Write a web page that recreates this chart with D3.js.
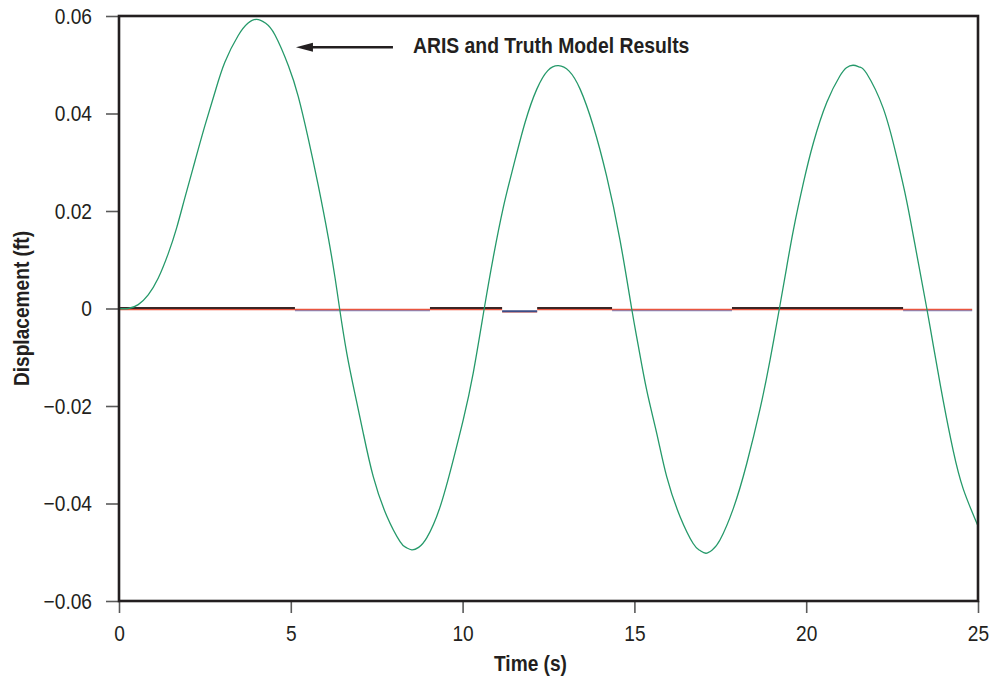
<!DOCTYPE html>
<html>
<head>
<meta charset="utf-8">
<script src="https://cdn.jsdelivr.net/npm/d3@7/dist/d3.min.js"></script>
<style>
  html, body { margin: 0; padding: 0; background: #ffffff; }
  svg { display: block; font-family: "Liberation Sans", Arial, Helvetica, sans-serif; }
</style>
</head>
<body>
<svg id="chart" width="997" height="684"></svg>
<script>
// Displacement response, time in seconds and displacement in feet
const timeS = [0, 0.27, 0.56, 0.85, 1.14, 1.43, 1.68, 1.92, 2.21, 2.50,
  2.79, 3.08, 3.47, 3.75, 4.00, 4.27, 4.54, 4.93, 5.22, 5.51,
  5.80, 6.09, 6.29, 6.42, 6.63, 6.87, 7.11, 7.40, 7.79, 8.18,
  8.35, 8.52, 8.72, 8.96, 9.34, 9.73, 10.02, 10.31, 10.63, 10.89,
  11.18, 11.48, 11.82, 12.16, 12.48, 12.79, 13.10, 13.42, 13.80, 14.19,
  14.58, 14.92, 15.11, 15.36, 15.65, 15.94, 16.33, 16.71, 16.90, 17.08,
  17.27, 17.49, 17.88, 18.27, 18.66, 18.95, 19.22, 19.43, 19.63, 19.92,
  20.21, 20.60, 20.98, 21.17, 21.37, 21.57, 21.76, 22.24, 22.63, 22.92,
  23.21, 23.51, 23.70, 23.99, 24.28, 24.57, 25.00];
const dispFt = [0, 0, 0.0008, 0.0028, 0.0062, 0.0112, 0.0166, 0.0228, 0.0302, 0.0375,
  0.0443, 0.0505, 0.0560, 0.0585, 0.0593, 0.0585, 0.0561, 0.0498, 0.0434, 0.0348,
  0.0252, 0.0146, 0.0062, 0, -0.0092, -0.0176, -0.0256, -0.0345, -0.0425, -0.0478,
  -0.0490, -0.0495, -0.0490, -0.0470, -0.0408, -0.0310, -0.0228, -0.0132, 0, 0.0104,
  0.0206, 0.0292, 0.0382, 0.0450, 0.0488, 0.0498, 0.0487, 0.0450, 0.0375, 0.0272,
  0.0141, 0, -0.0075, -0.0168, -0.0256, -0.0345, -0.0427, -0.0482, -0.0496, -0.0502,
  -0.0495, -0.0475, -0.0410, -0.0318, -0.0205, -0.0105, 0, 0.0084, 0.0162, 0.0258,
  0.0340, 0.0423, 0.0477, 0.0494, 0.0499, 0.0495, 0.0482, 0.0411, 0.0312, 0.0222,
  0.0114, 0, -0.0076, -0.0190, -0.0292, -0.0370, -0.0446];

// Near-zero traces: [start time, end time, displacement]
const darkSpans = [[0, 5.12, 0.0001], [9.05, 11.15, 0.0001], [12.17, 14.35, 0.0001], [17.84, 22.82, 0.0001]];
const blueSpans = [[5.12, 9.05, -0.0004], [14.35, 17.84, -0.0004], [22.82, 24.83, -0.0004]];
const redSpans = [[0, 11.15, -0.0002], [11.15, 12.17, -0.0007], [12.17, 24.83, -0.0002]];
const navySpans = [[11.15, 12.17, -0.00055]];

const xTicks = [0, 5, 10, 15, 20, 25];
const yTicks = [-0.06, -0.04, -0.02, 0, 0.02, 0.04, 0.06];
const xTitle = "Time (s)";
const yTitle = "Displacement (ft)";
const noteText = "ARIS and Truth Model Results";
const noteTip = [5.15, 0.0536];   // arrow tip, in data units

const svg = d3.select("#chart");
const plotL = 119, plotR = 978, plotT = 16, plotB = 601;
const ink = "#231f20";
const squeeze = 0.87;   // narrow typeface look

const x = d3.scaleLinear().domain([0, 25]).range([plotL, plotR]);
const y = d3.scaleLinear().domain([-0.06, 0.06]).range([plotB, plotT]);

// axes (ticks outside the frame)
const fmt = d => d === 0 ? "0" : d3.format(".2f")(d);
const xAxis = svg.append("g")
  .attr("transform", `translate(0,${plotB})`)
  .call(d3.axisBottom(x).tickValues(xTicks).tickFormat(d3.format("d")).tickSize(12).tickSizeOuter(0).tickPadding(12));
const yAxis = svg.append("g")
  .attr("transform", `translate(${plotL},0)`)
  .call(d3.axisLeft(y).tickValues(yTicks).tickFormat(fmt).tickSize(13).tickSizeOuter(0).tickPadding(14));

[xAxis, yAxis].forEach(a => {
  a.select(".domain").remove();
  a.selectAll(".tick line").attr("stroke", "#5a5a5a").attr("stroke-width", 1.6);
  a.selectAll(".tick text").attr("fill", ink).attr("font-size", 22);
});
xAxis.selectAll(".tick text").attr("transform", `scale(${squeeze},1)`);
yAxis.selectAll(".tick text")
  .attr("x", -(13 + 14) / squeeze)
  .attr("transform", `scale(${squeeze},1)`);

// data lines
const line = d3.line().x(d => x(d[0])).y(d => y(d[1]));
const spanPath = s => line([[s[0], s[2]], [s[1], s[2]]]);
const plot = svg.append("g");

plot.selectAll(".blue").data(blueSpans).join("path")
  .attr("d", spanPath).attr("fill", "none").attr("stroke", "#7f8cc6").attr("stroke-width", 1.6);
plot.selectAll(".red").data(redSpans).join("path")
  .attr("d", spanPath).attr("fill", "none").attr("stroke", "#e9553f").attr("stroke-width", 1.4);
plot.selectAll(".dark").data(darkSpans).join("path")
  .attr("d", spanPath).attr("fill", "none").attr("stroke", "#3a2727").attr("stroke-width", 2);
plot.selectAll(".navy").data(navySpans).join("path")
  .attr("d", spanPath).attr("fill", "none").attr("stroke", "#3d4c86").attr("stroke-width", 2);

const series = timeS.map((t, i) => [t, dispFt[i]]);
plot.append("path")
  .datum(series)
  .attr("d", d3.line().x(d => x(d[0])).y(d => y(d[1])).curve(d3.curveNatural))
  .attr("fill", "none")
  .attr("stroke", "#25996a")
  .attr("stroke-width", 1.3);

// frame
svg.append("rect")
  .attr("x", plotL).attr("y", plotT)
  .attr("width", plotR - plotL).attr("height", plotB - plotT)
  .attr("fill", "none").attr("stroke", ink).attr("stroke-width", 2.6);

// annotation
const tipX = x(noteTip[0]), tipY = y(noteTip[1]);
svg.append("line")
  .attr("x1", tipX + 12).attr("y1", tipY)
  .attr("x2", tipX + 97).attr("y2", tipY)
  .attr("stroke", ink).attr("stroke-width", 2.4);
svg.append("path")
  .attr("d", `M${tipX},${tipY} L${tipX + 17},${tipY - 4.5} L${tipX + 17},${tipY + 4.5} Z`)
  .attr("fill", ink);
svg.append("text")
  .attr("transform", `translate(${tipX + 117},${tipY + 6}) scale(0.88,1)`)
  .attr("font-size", 22).attr("font-weight", "bold").attr("fill", ink)
  .text(noteText);

// axis titles
svg.append("text")
  .attr("transform", `translate(${(plotL + plotR) / 2 - 18},671) scale(${squeeze},1)`)
  .attr("text-anchor", "middle")
  .attr("font-size", 22).attr("font-weight", "bold").attr("fill", ink)
  .text(xTitle);
svg.append("text")
  .attr("transform", `translate(29,${(plotT + plotB) / 2}) rotate(-90) scale(${squeeze},1)`)
  .attr("text-anchor", "middle")
  .attr("font-size", 22).attr("font-weight", "bold").attr("fill", ink)
  .text(yTitle);
</script>
</body>
</html>
